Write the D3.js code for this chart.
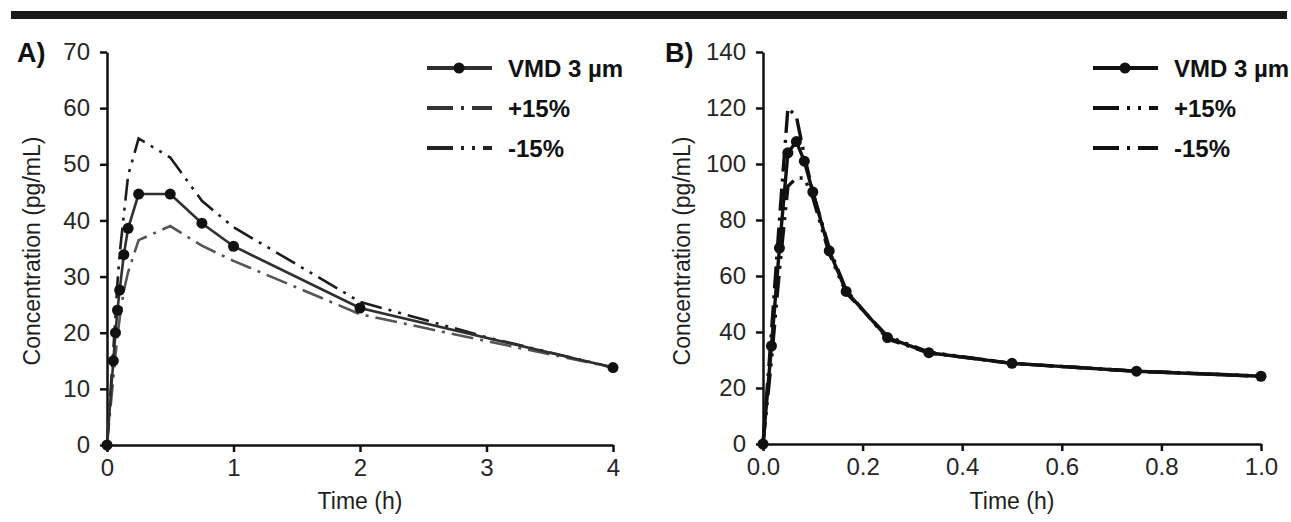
<!DOCTYPE html>
<html>
<head>
<meta charset="utf-8">
<script src="https://cdn.jsdelivr.net/npm/d3@7"></script>
<style>
  body { margin: 0; background: #fff; }
  svg { display: block; font-family: "Liberation Sans", Arial, sans-serif; }
  .axis path, .axis line { stroke: #111; stroke-width: 2.5; }
  .axis text { font-size: 24px; fill: #262626; }
</style>
</head>
<body>
<svg id="chart" width="1291" height="522"></svg>
<script>
// Panel A: time (h) and concentration (pg/mL)
const timesA = [0, 0.05, 0.067, 0.083, 0.1, 0.133, 0.167, 0.25, 0.5, 0.75, 1, 2, 3, 4];
const vmdTimesA = [0, 0.05, 0.067, 0.083, 0.1, 0.133, 0.167, 0.25, 0.5, 0.75, 1, 2, 4];
const vmdA = [0, 15, 20, 24, 27.6, 33.9, 38.6, 44.7, 44.7, 39.5, 35.4, 24.4, 13.8];
const plusA = [0, 12, 16, 19.5, 22.5, 27.5, 30.8, 36.5, 39, 35.5, 32.8, 23.3, 18.5, 13.8];
const minusA = [0, 17, 23, 29, 34, 41, 48, 54.6, 51.2, 43.5, 38.8, 25.5, 19.2, 13.8];
const xTicksA = [0, 1, 2, 3, 4];
const yTicksA = [0, 10, 20, 30, 40, 50, 60, 70];

// Panel B
const timesB = [0, 0.017, 0.033, 0.05, 0.067, 0.083, 0.1, 0.133, 0.167, 0.25, 0.333, 0.5, 0.75, 1];
const vmdB = [0, 35, 70, 104, 108, 101, 90, 69, 54.5, 38, 32.6, 28.8, 26, 24.2];
const plusB = [0, 30, 62, 92, 95, 95, 88, 68, 54, 38.5, 32.8, 28.8, 26, 24.3];
const minusB = [0, 40, 80, 120, 117, 103, 90, 70, 55, 37.5, 32.5, 28.8, 26, 24.2];
const xTicksB = [0, 0.2, 0.4, 0.6, 0.8, 1.0];
const yTicksB = [0, 20, 40, 60, 80, 100, 120, 140];

const legendLabels = ["VMD 3 \u00b5m", "+15%", "-15%"];

const svg = d3.select("#chart");

// top rule
svg.append("rect")
  .attr("x", 11).attr("y", 11)
  .attr("width", 1276).attr("height", 8)
  .attr("fill", "#1a1a1a");

const dashDot = "22,7,3,7";
const dashDotDot = "22,7,3,7,3,7";

function toPoints(ts, vs) {
  return ts.map((t, i) => ({ t: t, v: vs[i] }));
}

function drawPanel(cfg) {
  const x = d3.scaleLinear().domain(cfg.xDomain).range([cfg.left, cfg.right]);
  const y = d3.scaleLinear().domain(cfg.yDomain).range([cfg.bottom, cfg.top]);

  const g = svg.append("g");

  // axes
  g.append("g")
    .attr("class", "axis")
    .attr("transform", `translate(0,${cfg.bottom})`)
    .call(d3.axisBottom(x).tickValues(cfg.xTicks).tickFormat(cfg.xFormat)
      .tickSize(7).tickSizeOuter(0).tickPadding(7));

  g.append("g")
    .attr("class", "axis")
    .attr("transform", `translate(${cfg.left},0)`)
    .call(d3.axisLeft(y).tickValues(cfg.yTicks).tickFormat(d3.format("d"))
      .tickSize(7).tickSizeOuter(0).tickPadding(10));

  // axis titles
  g.append("text")
    .attr("x", (cfg.left + cfg.right) / 2)
    .attr("y", 501)
    .attr("text-anchor", "middle")
    .attr("dominant-baseline", "central")
    .attr("font-size", 23)
    .attr("fill", "#1e1e1e")
    .text("Time (h)");

  g.append("text")
    .attr("transform", `translate(${cfg.yLabelX},251) rotate(-90)`)
    .attr("text-anchor", "middle")
    .attr("dominant-baseline", "central")
    .attr("font-size", 23)
    .attr("fill", "#1e1e1e")
    .text("Concentration (pg/mL)");

  // panel letter
  g.append("text")
    .attr("x", cfg.letterX).attr("y", 62)
    .attr("font-size", 27).attr("font-weight", "bold")
    .attr("fill", "#111")
    .text(cfg.letter);

  const line = d3.line().x(d => x(d.t)).y(d => y(d.v));

  // dashed series
  cfg.series.forEach(s => {
    g.append("path")
      .datum(toPoints(s.times, s.values))
      .attr("fill", "none")
      .attr("stroke", s.color)
      .attr("stroke-width", cfg.lineWidth)
      .attr("stroke-dasharray", s.dash)
      .attr("d", line);
  });

  // main series with markers
  g.append("path")
    .datum(toPoints(cfg.vmd.times, cfg.vmd.values))
    .attr("fill", "none")
    .attr("stroke", cfg.vmd.color)
    .attr("stroke-width", cfg.lineWidth)
    .attr("d", line);

  g.selectAll("circle.pt")
    .data(toPoints(cfg.vmd.times, cfg.vmd.values))
    .enter().append("circle")
    .attr("class", "pt")
    .attr("cx", d => x(d.t))
    .attr("cy", d => y(d.v))
    .attr("r", 5.5)
    .attr("fill", "#111");

  // legend
  const rows = [
    { label: legendLabels[0], dash: null, color: cfg.vmd.color, marker: true },
    { label: legendLabels[1], dash: cfg.legendDash[0], color: cfg.legendColor[0] },
    { label: legendLabels[2], dash: cfg.legendDash[1], color: cfg.legendColor[1] }
  ];
  const rowY = [68, 108, 148];
  rows.forEach((r, i) => {
    g.append("line")
      .attr("x1", cfg.legX).attr("x2", cfg.legX + 65)
      .attr("y1", rowY[i]).attr("y2", rowY[i])
      .attr("stroke", r.color)
      .attr("stroke-width", 4)
      .attr("stroke-dasharray", r.dash);
    if (r.marker) {
      g.append("circle")
        .attr("cx", cfg.legX + 32).attr("cy", rowY[i])
        .attr("r", 5.5).attr("fill", "#111");
    }
    g.append("text")
      .attr("x", cfg.legX + 81).attr("y", rowY[i])
      .attr("dominant-baseline", "central")
      .attr("font-size", 24).attr("font-weight", "bold")
      .attr("fill", "#111")
      .text(r.label);
  });
}

drawPanel({
  letter: "A)", letterX: 17, yLabelX: 32,
  left: 107, right: 613, top: 52, bottom: 445,
  xDomain: [0, 4], yDomain: [0, 70],
  xTicks: xTicksA, yTicks: yTicksA, xFormat: d3.format("d"),
  lineWidth: 2.6,
  series: [
    { times: timesA, values: plusA, color: "#555", dash: dashDot },
    { times: timesA, values: minusA, color: "#1c1c1c", dash: dashDotDot }
  ],
  vmd: { times: vmdTimesA, values: vmdA, color: "#2f2f2f" },
  legX: 427,
  legendDash: ["26,8,3,8", "26,8,3,8,3,8"],
  legendColor: ["#333", "#222"]
});

drawPanel({
  letter: "B)", letterX: 665, yLabelX: 682,
  left: 763, right: 1261, top: 52, bottom: 444,
  xDomain: [0, 1], yDomain: [0, 140],
  xTicks: xTicksB, yTicks: yTicksB, xFormat: d3.format(".1f"),
  lineWidth: 3.4,
  series: [
    { times: timesB, values: plusB, color: "#111", dash: dashDotDot },
    { times: timesB, values: minusB, color: "#111", dash: dashDot }
  ],
  vmd: { times: timesB, values: vmdB, color: "#111" },
  legX: 1093,
  legendDash: ["26,8,3,8,3,8", "26,8,3,8"],
  legendColor: ["#111", "#111"]
});
</script>
</body>
</html>
